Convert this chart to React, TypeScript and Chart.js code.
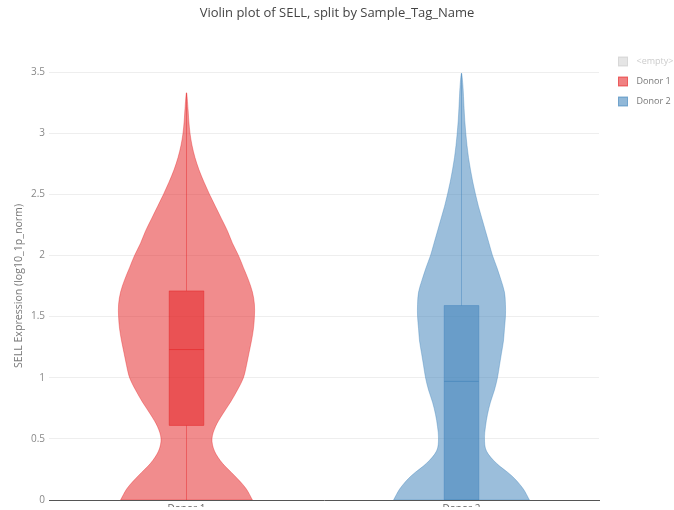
import { useEffect, useRef } from 'react';
import { Chart, registerables } from 'chart.js';

Chart.register(...registerables);

const TITLE = 'Violin plot of SELL, split by Sample_Tag_Name';
const Y_TITLE = 'SELL Expression (log10_1p_norm)';
const CATEGORIES = ['Donor 1', 'Donor 2'];
const LEGEND_LABELS = ['<empty>', 'Donor 1', 'Donor 2'];

const Y_MIN = 0;
const Y_MAX = 3.5;
const Y_STEP = 0.5;

// Kernel density profile (relative width) sampled at these expression levels
const DONOR1_LEVELS = [
  0, 0.1, 0.2, 0.3, 0.4, 0.5, 0.6, 0.7, 0.8, 0.9, 1.0, 1.1, 1.2, 1.3, 1.4, 1.5, 1.6,
  1.7, 1.8, 1.9, 2.0, 2.1, 2.2, 2.3, 2.4, 2.5, 2.6, 2.7, 2.8, 2.9, 3.0, 3.1, 3.2, 3.33,
];
const DONOR1_DENSITY = [
  66, 59, 48, 36, 28, 25.5, 29, 36, 44, 51, 57, 60, 62.5, 65, 67, 68, 68,
  66, 62, 57, 52, 46, 41, 35, 29, 23, 17.5, 12.5, 8.5, 5.5, 3.5, 2.3, 1.5, 0,
];

const DONOR2_LEVELS = [
  0, 0.1, 0.2, 0.3, 0.4, 0.5, 0.6, 0.7, 0.8, 0.9, 1.0, 1.1, 1.2, 1.3, 1.4, 1.5, 1.6,
  1.7, 1.8, 1.9, 2.0, 2.1, 2.2, 2.3, 2.4, 2.5, 2.6, 2.7, 2.8, 2.9, 3.0, 3.1, 3.2, 3.3,
  3.4, 3.49,
];
const DONOR2_DENSITY = [
  68, 61, 50, 35, 25, 23, 24, 26, 29, 33, 36, 38, 40, 42, 43, 44, 44,
  43, 39.5, 35.5, 31, 27.5, 24, 20.5, 17, 14, 11.3, 9, 7, 5.5, 4.3, 3.3, 2.6, 2,
  1.3, 0,
];

// Box statistics: min, q1, median, q3, max
const DONOR1_BOX = [0, 0.61, 1.23, 1.71, 3.33];
const DONOR2_BOX = [0, 0, 0.97, 1.59, 3.49];

const RED = [228, 26, 28];
const BLUE = [55, 126, 184];
const GREY = [190, 190, 190];

const rgba = (c: number[], a: number) => `rgba(${c[0]},${c[1]},${c[2]},${a})`;

const VIOLINS = [
  { levels: DONOR1_LEVELS, density: DONOR1_DENSITY, box: DONOR1_BOX, color: RED },
  { levels: DONOR2_LEVELS, density: DONOR2_DENSITY, box: DONOR2_BOX, color: BLUE },
];
const LEGEND_COLORS = [GREY, RED, BLUE];
const LEGEND_TEXT_COLORS = ['#cccccc', '#777', '#777'];

const FONT = '"Open Sans", "DejaVu Sans", sans-serif';

// half-widths as fractions of the category spacing
const VIOLIN_HALF = 0.247;
const BOX_HALF = 0.063;

type Pt = [number, number];

// Catmull-Rom spline through the points, as cubic Béziers
function smoothPath(ctx: CanvasRenderingContext2D, pts: Pt[]) {
  ctx.moveTo(pts[0][0], pts[0][1]);
  for (let i = 0; i < pts.length - 1; i++) {
    const p0 = pts[Math.max(0, i - 1)];
    const p1 = pts[i];
    const p2 = pts[i + 1];
    const p3 = pts[Math.min(pts.length - 1, i + 2)];
    const c1x = p1[0] + (p2[0] - p0[0]) / 6;
    const c1y = p1[1] + (p2[1] - p0[1]) / 6;
    const c2x = p2[0] - (p3[0] - p1[0]) / 6;
    const c2y = p2[1] - (p3[1] - p1[1]) / 6;
    ctx.bezierCurveTo(c1x, c1y, c2x, c2y, p2[0], p2[1]);
  }
}

const violinPlugin = {
  id: 'violins',
  afterDatasetsDraw(chart: any) {
    const { ctx, chartArea } = chart;
    const x = chart.scales.x;
    const y = chart.scales.y;
    const step = x.getPixelForValue(1) - x.getPixelForValue(0);
    const maxHalf = step * VIOLIN_HALF;
    const boxHalf = step * BOX_HALF;

    ctx.save();
    ctx.beginPath();
    ctx.rect(chartArea.left, chartArea.top, chartArea.right - chartArea.left, chartArea.bottom - chartArea.top);
    ctx.clip();

    VIOLINS.forEach((v, i) => {
      const cx = x.getPixelForValue(i);
      const peak = Math.max(...v.density);
      const right: Pt[] = v.levels.map((lv, k) => [cx + (maxHalf * v.density[k]) / peak, y.getPixelForValue(lv)]);
      const left: Pt[] = right
        .slice(0, -1)
        .map(([px, py]) => [2 * cx - px, py] as Pt)
        .reverse();
      const outline = right.concat(left);

      ctx.beginPath();
      smoothPath(ctx, outline);
      ctx.closePath();
      ctx.fillStyle = rgba(v.color, 0.5);
      ctx.fill();
      ctx.lineWidth = 1;
      ctx.strokeStyle = rgba(v.color, 0.35);
      ctx.stroke();

      const [mn, q1, med, q3, mx] = v.box;
      const yMin = y.getPixelForValue(mn);
      const yQ1 = y.getPixelForValue(q1);
      const yMed = y.getPixelForValue(med);
      const yQ3 = y.getPixelForValue(q3);
      const yMax = y.getPixelForValue(mx);

      // whiskers
      ctx.beginPath();
      ctx.moveTo(cx, yMax);
      ctx.lineTo(cx, yQ3);
      ctx.moveTo(cx, yQ1);
      ctx.lineTo(cx, yMin);
      ctx.strokeStyle = rgba(v.color, 0.4);
      ctx.stroke();

      // box
      ctx.beginPath();
      ctx.rect(cx - boxHalf, yQ3, boxHalf * 2, yQ1 - yQ3);
      ctx.fillStyle = rgba(v.color, 0.5);
      ctx.fill();
      ctx.strokeStyle = rgba(v.color, 0.4);
      ctx.stroke();

      // median
      ctx.beginPath();
      ctx.moveTo(cx - boxHalf, yMed);
      ctx.lineTo(cx + boxHalf, yMed);
      ctx.strokeStyle = rgba(v.color, 0.5);
      ctx.stroke();
    });
    ctx.restore();
  },
  afterDraw(chart: any) {
    const { ctx, chartArea } = chart;
    ctx.save();
    ctx.font = `9px ${FONT}`;
    ctx.textBaseline = 'middle';
    ctx.textAlign = 'left';
    LEGEND_LABELS.forEach((label, i) => {
      const bx = chartArea.right + 19.5;
      const cy = chartArea.top - 10.5 + i * 20;
      ctx.fillStyle = rgba(LEGEND_COLORS[i], i === 0 ? 0.4 : 0.55);
      ctx.fillRect(bx, cy - 4.5, 9, 9);
      ctx.strokeStyle = rgba(LEGEND_COLORS[i], i === 0 ? 0.5 : 0.6);
      ctx.lineWidth = 1;
      ctx.strokeRect(bx, cy - 4.5, 9, 9);
      ctx.fillStyle = LEGEND_TEXT_COLORS[i];
      ctx.fillText(label, bx + 18, cy);
    });
    ctx.restore();
  },
};

export default function App() {
  const canvasRef = useRef<HTMLCanvasElement | null>(null);

  useEffect(() => {
    document.body.style.margin = '0';
    const canvas = canvasRef.current;
    if (!canvas) return;
    const chart = new Chart(canvas, {
      type: 'line',
      data: { labels: CATEGORIES, datasets: [] },
      options: {
        animation: false,
        responsive: true,
        maintainAspectRatio: false,
        layout: { padding: 0 },
        plugins: {
          legend: { display: false },
          tooltip: { enabled: false },
          title: {
            display: true,
            text: TITLE,
            color: '#444',
            font: { family: FONT, size: 13, weight: 'normal' },
            padding: { top: 5.5, bottom: 50.9 },
          },
        },
        scales: {
          x: {
            type: 'category',
            offset: true,
            grid: { display: false, drawTicks: false },
            border: { display: true, color: '#555', width: 1 },
            ticks: { color: '#666', font: { family: FONT, size: 10 }, padding: 3 },
            afterFit: (s: any) => {
              s.height = 7;
            },
          },
          y: {
            type: 'linear',
            min: Y_MIN,
            max: Y_MAX,
            ticks: {
              stepSize: Y_STEP,
              color: '#888',
              font: { family: FONT, size: 10 },
              padding: 4,
              callback: (v: any) => String(Number(v)),
            },
            grid: {
              drawTicks: false,
              color: (c: any) => (c.tick && c.tick.value === 0 ? 'rgba(0,0,0,0)' : '#eeeeee'),
            },
            border: { display: false },
            title: {
              display: true,
              text: Y_TITLE,
              color: '#777',
              font: { family: FONT, size: 10.6 },
              padding: { top: 12.5, bottom: 0 },
            },
            afterFit: (s: any) => {
              s.width = 49;
            },
          },
          // empty right-hand gutter that holds the legend
          gutter: {
            type: 'linear',
            position: 'right',
            display: true,
            ticks: { display: false },
            grid: { display: false, drawTicks: false },
            border: { display: false },
            afterFit: (s: any) => {
              s.width = 75;
            },
          },
        },
      },
      plugins: [violinPlugin],
    } as any);
    return () => chart.destroy();
  }, []);

  return (
    <div style={{ width: 674, height: 510, position: 'relative' }}>
      <canvas ref={canvasRef} />
    </div>
  );
}
